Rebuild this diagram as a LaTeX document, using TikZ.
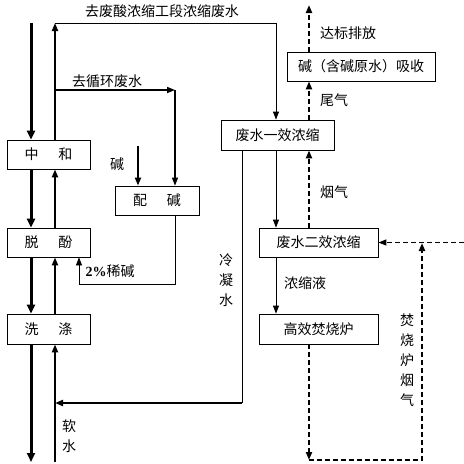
\documentclass[tikz,border=0pt]{standalone}
\usepackage{fontspec}
\setmainfont{Noto Sans CJK SC}
\newfontfamily\numfont{Liberation Serif}
\usetikzlibrary{arrows.meta,calc}
\begin{document}
\begin{tikzpicture}[x=1pt,y=-1pt,
  box/.style={draw,line width=0.8pt,inner sep=0pt,font=\fontsize{14}{14}\selectfont},
  lab/.style={inner sep=0pt,font=\fontsize{14}{14}\selectfont},
  vlab/.style={inner sep=0pt,align=center,font=\fontsize{14}{20}\selectfont},
  tip/.style={-{Triangle[length=8pt,width=6pt]}},
  bigtip/.style={-{Triangle[length=9pt,width=8pt]}},
  thkdn/.style={line width=3pt,bigtip},
  thkup/.style={line width=2pt,tip},
  ln/.style={line width=0.8pt,tip},
  gas/.style={line width=2pt,dash pattern=on 5pt off 3pt,tip},
]
\useasboundingbox[fill=white] (0,0) rectangle (464,464);

% boxes
\node[box,minimum width=83pt,minimum height=29pt] (zh) at (48.5,154.5) {中\hspace{1.4em}和};
\node[box,minimum width=83pt,minimum height=29pt] (tf) at (48.5,242.5) {脱\hspace{1.4em}酚};
\node[box,minimum width=83pt,minimum height=30pt] (xd) at (48.5,329) {洗\hspace{1.4em}涤};
\node[box,minimum width=84pt,minimum height=29pt] (pj) at (157,200.5) {配\hspace{1.4em}碱};
\node[box,minimum width=113pt,minimum height=30pt] (e1) at (277.5,135) {废水一效浓缩};
\node[box,minimum width=148pt,minimum height=29pt] (xs) at (361,66.5) {碱（含碱原水）吸收};
\node[box,minimum width=119pt,minimum height=29pt] (e2) at (318.5,242.5) {废水二效浓缩};
\node[box,minimum width=119pt,minimum height=30pt] (fs) at (318.5,329) {高效焚烧炉};

% labels
\node[lab] (l1) at (162,11) {去废酸浓缩工段浓缩废水};
\node[lab] (l2) at (107,81) {去循环废水};
\node[lab] (l3) at (117,164) {碱};
\node[lab] (l4) at (110,271) {{\numfont\bfseries 2\%}稀碱};
\node[vlab] (l5) at (226,280) {冷\\凝\\水};
\node[vlab] (l6) at (69,436) {软\\水};
\node[lab] (l7) at (348,33) {达标排放};
\node[lab] (l8) at (334,100) {尾气};
\node[lab] (l9) at (334,192) {烟气};
\node[lab] (l10) at (305,283) {浓缩液};
\node[vlab] (l11) at (407,360) {焚\\烧\\炉\\烟\\气};

% left thick down column
\coordinate (t1) at (31,23);
\coordinate (b1) at (31,462);
\draw[thkdn] (t1) -- (t1 |- zh.north);
\draw[thkdn] (zh.south -| t1) -- (tf.north -| t1);
\draw[thkdn] (tf.south -| t1) -- (xd.north -| t1);
\draw[thkdn] (xd.south -| t1) -- (b1);

% up column
\coordinate (c1) at (55,23);
\coordinate (c2) at (276,23);
\coordinate (b2) at (55,462);
\draw[thkup] (zh.north -| c1) -- (c1);
\draw[ln] (c1) -- (c2) -- (c2 |- e1.north);
\draw[thkup] (tf.north -| c1) -- (zh.south -| c1);
\draw[thkup] (xd.north -| c1) -- (tf.south -| c1);
\draw[thkup] (b2) -- (xd.south -| c1);

% branch to circulating water
\coordinate (r1) at (55,90);
\coordinate (r2) at (175,90);
\draw[line width=1.6pt,tip] (r1) -- (r2);
\draw[line width=1.2pt,tip] (r2) -- (r2 |- pj.north);

% alkali feed
\coordinate (k1) at (138,146);
\draw[thkup] (k1) -- (k1 |- pj.north);

% 2% dilute alkali
\coordinate (d1) at (175,284);
\coordinate (d2) at (79,284);
\draw[ln] (pj.south -| d1) -- (d1) -- (d2) -- (d2 |- tf.south);

% condensate
\coordinate (n1) at (242,403);
\draw[line width=0.8pt] (e1.south -| n1) -- (n1);
\draw[line width=2pt,tip] (n1) -- (n1 -| c1);

% concentration chain
\coordinate (m1) at (276,0);
\draw[ln] (e1.south -| m1) -- (e2.north -| m1);
\draw[ln] (e2.south -| m1) -- (fs.north -| m1);

% gas lines
\coordinate (g0) at (309,5);
\draw[gas] (xs.north -| g0) -- (g0);
\draw[gas] (e1.north -| g0) -- (xs.south -| g0);
\draw[gas] (e2.north -| g0) -- (e1.south -| g0);
\coordinate (g1) at (309,460);
\draw[gas] (fs.south -| g1) -- (g1);
\coordinate (g2) at (422,460);
\coordinate (g3) at (422,243);
\coordinate (g4) at (464,242.5);
\draw[gas] (g1) -- (g2) -- (g3);
\draw[gas,line width=1.2pt] (g4) -- (e2.east);
\end{tikzpicture}
\end{document}
